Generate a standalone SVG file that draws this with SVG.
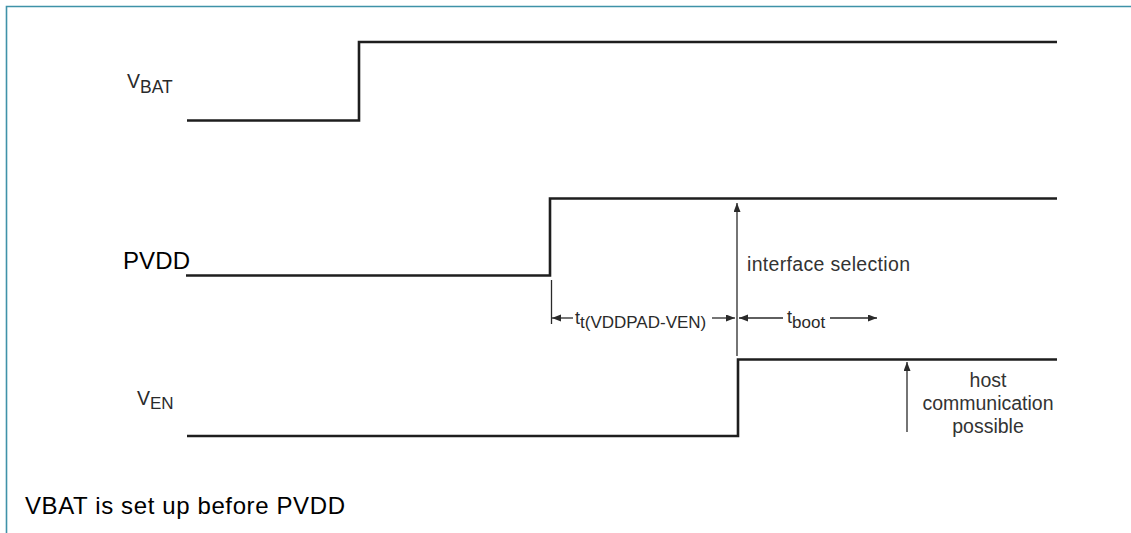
<svg xmlns="http://www.w3.org/2000/svg" width="1131" height="533" viewBox="0 0 1131 533">
<style>
text { font-family: "Liberation Sans", Arial, sans-serif; }
.sig { fill: none; stroke: #1e1e1e; stroke-width: 2.6; stroke-linejoin: miter; }
.arr { fill: none; stroke: #2a2a2a; stroke-width: 1.3; }
.lbl { fill: #2a2a2a; }
.note { fill: #333333; font-size: 19.5px; }
.dim { fill: #2a2a2a; }
</style>
<defs>
<marker id="ah" markerUnits="userSpaceOnUse" markerWidth="10" markerHeight="8" refX="9" refY="3.5" orient="auto">
<path d="M0,0 L9,3.5 L0,7 z" fill="#2a2a2a"/>
</marker>
</defs>
<rect x="0" y="0" width="1131" height="533" fill="#ffffff"/>
<path d="M6.5,533 L6.5,6.5 L1131,6.5" fill="none" stroke="#3f92a8" stroke-width="1.6"/>

<g id="vbat">
<path class="sig" d="M187,120.5 L359,120.5 L359,42 L1057,42"/>
<text class="lbl" x="127" y="88" font-size="19.5">V<tspan font-size="17.5" dy="5">BAT</tspan></text>
</g>

<g id="pvdd">
<path class="sig" d="M186,275.5 L550,275.5 L550,198.5 L1057,198.5"/>
<text x="123" y="269" font-size="24" fill="#000000" textLength="67">PVDD</text>
</g>

<g id="ven">
<path class="sig" d="M187,436 L738,436 L738,359.5 L1057,359.5"/>
<text class="lbl" x="137" y="405" font-size="19.5">V<tspan font-size="17" dy="4">EN</tspan></text>
</g>

<g id="interface-selection">
<text class="note" x="747" y="271" textLength="163">interface selection</text>
</g>

<g id="host-communication">
<text class="note" text-anchor="middle" x="988" y="387">host</text>
<text class="note" text-anchor="middle" x="988" y="410">communication</text>
<text class="note" text-anchor="middle" x="988" y="433">possible</text>
</g>

<g id="t-vddpad-ven">
<text class="dim" x="575" y="324" font-size="18">t<tspan font-size="17" dy="4">t(VDDPAD-VEN)</tspan></text>
</g>

<g id="t-boot">
<text class="dim" x="787" y="323" font-size="18">t<tspan font-size="17" dy="5">boot</tspan></text>
</g>

<g id="connectors">
<line class="arr" x1="737" y1="356" x2="737" y2="203" marker-end="url(#ah)"/>
<line class="arr" x1="907" y1="432" x2="907" y2="362" marker-end="url(#ah)"/>
<line class="arr" x1="551.5" y1="280" x2="551.5" y2="324"/>
<line class="arr" x1="573" y1="318" x2="552" y2="318" marker-end="url(#ah)"/>
<line class="arr" x1="712" y1="318" x2="735" y2="318" marker-end="url(#ah)"/>
<line class="arr" x1="783" y1="318" x2="739" y2="318" marker-end="url(#ah)"/>
<line class="arr" x1="830" y1="318" x2="877" y2="318" marker-end="url(#ah)"/>
</g>

<text x="25" y="514" font-size="24" fill="#000000" textLength="320">VBAT is set up before PVDD</text>
</svg>
